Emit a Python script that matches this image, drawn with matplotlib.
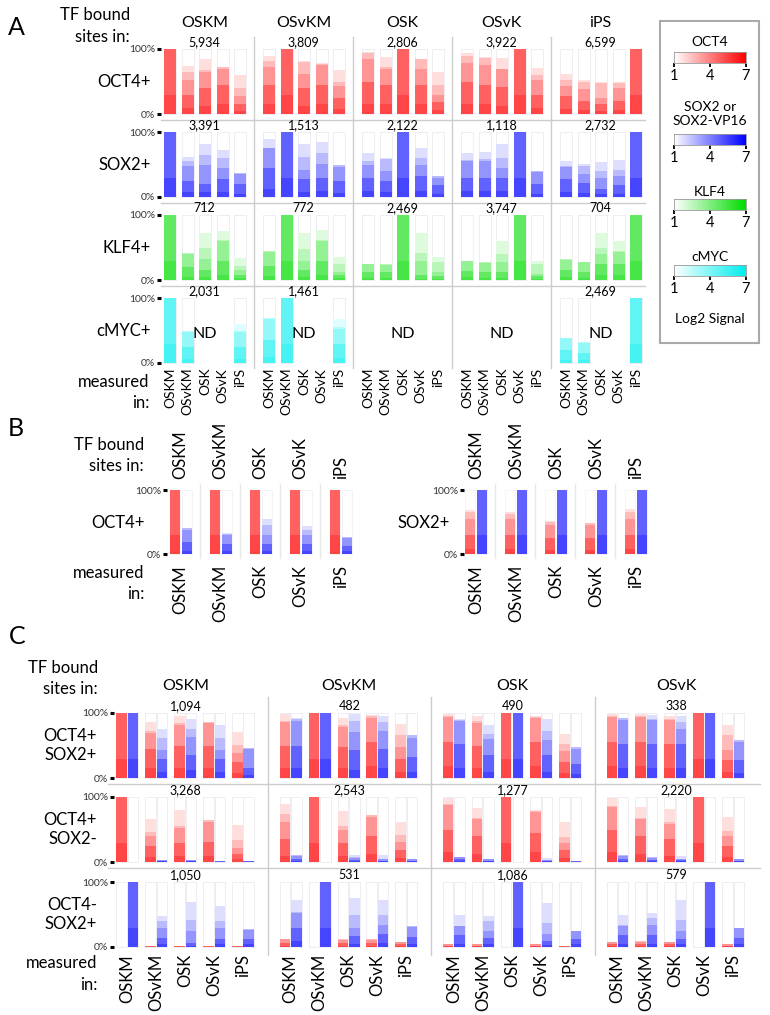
import numpy as np
import matplotlib
matplotlib.use('Agg')
import matplotlib.pyplot as plt
from matplotlib.colors import LinearSegmentedColormap
from matplotlib.patches import Rectangle

plt.rcParams['font.family'] = ['Lato', 'DejaVu Sans']

W, H = 770, 1015

# ---------------- data ----------------
# every bar: % of sites with log2 signal >= 2, 3, 4, 5, 6
tf_names = ['OSKM', 'OSvKM', 'OSK', 'OSvK', 'iPS']
c_groups = ['OSKM', 'OSvKM', 'OSK', 'OSvK']
a_rows = ['OCT4+', 'SOX2+', 'KLF4+', 'cMYC+']
c_rows = ['OCT4+\nSOX2+', 'OCT4+\nSOX2-', 'OCT4-\nSOX2+']

full = [100, 100, 100, 100, 30]
empty = [0, 0, 0, 0, 0]

a_counts = [['5,934', '3,809', '2,806', '3,922', '6,599'],
            ['3,391', '1,513', '2,122', '1,118', '2,732'],
            ['712', '772', '2,469', '3,747', '704'],
            ['2,031', '1,461', '', '', '2,469']]

a_oct4 = [[full, [74, 64, 52, 30, 10], [84, 67, 65, 40, 12], [72, 72, 70, 45, 15], [60, 40, 28, 15, 5]],
          [[90, 82, 72, 45, 15], full, [82, 80, 62, 40, 12], [78, 77, 75, 45, 15], [68, 50, 43, 25, 8]],
          [[96, 94, 85, 50, 15], [87, 73, 70, 45, 15], full, [84, 84, 70, 45, 15], [64, 44, 30, 18, 6]],
          [[94, 89, 79, 50, 15], [88, 86, 76, 45, 15], [86, 70, 69, 42, 12], full, [71, 60, 53, 30, 10]],
          [[61, 52, 43, 28, 8], [52, 50, 38, 20, 6], [49, 47, 25, 15, 5], [50, 48, 40, 20, 6], full]]

a_sox2 = [[full, [62, 55, 47, 25, 8], [81, 65, 50, 20, 8], [72, 60, 45, 27, 8], [37, 37, 35, 20, 5]],
          [[90, 76, 75, 45, 12], full, [81, 62, 42, 27, 8], [85, 67, 51, 30, 10], [49, 49, 46, 25, 6]],
          [[67, 55, 50, 30, 10], [60, 58, 40, 25, 8], full, [75, 60, 50, 32, 10], [32, 32, 30, 18, 5]],
          [[67, 57, 55, 30, 10], [69, 58, 55, 30, 10], [81, 60, 45, 30, 10], full, [40, 40, 38, 20, 5]],
          [[56, 47, 46, 28, 8], [51, 48, 35, 22, 6], [54, 40, 30, 12, 4], [57, 42, 32, 18, 5], full]]

a_klf4 = [[full, [41, 41, 40, 20, 5], [72, 50, 32, 15, 5], [76, 62, 60, 30, 8], [34, 22, 15, 8, 3]],
          [[45, 45, 43, 22, 6], full, [72, 48, 30, 15, 4], [77, 62, 60, 30, 8], [35, 25, 13, 8, 3]],
          [[25, 25, 24, 12, 3], [24, 24, 23, 12, 3], full, [72, 42, 30, 8, 2], [35, 28, 12, 6, 2]],
          [[30, 30, 29, 14, 4], [27, 27, 26, 13, 3], [60, 40, 28, 12, 3], full, [29, 25, 10, 6, 2]],
          [[32, 32, 31, 15, 4], [28, 28, 27, 13, 3], [72, 50, 40, 25, 8], [60, 45, 43, 25, 8], full]]

a_cmyc = [[full, [49, 49, 48, 25, 6], None, None, [60, 50, 48, 25, 6]],
          [[69, 69, 67, 35, 10], full, None, None, [67, 55, 53, 30, 8]],
          [None, None, None, None, None],
          [None, None, None, None, None],
          [[39, 39, 38, 20, 5], [32, 32, 31, 16, 4], None, None, full]]

b_oct4_red = [full, full, full, full, full]
b_oct4_blue = [[41, 40, 38, 18, 5], [33, 32, 30, 15, 4], [54, 45, 30, 15, 5], [43, 38, 30, 15, 4], [27, 27, 25, 12, 4]]
b_sox2_red = [[69, 65, 55, 30, 8], [66, 62, 55, 30, 8], [51, 50, 45, 25, 7], [49, 48, 45, 25, 7], [70, 65, 55, 30, 8]]
b_sox2_blue = [full, full, full, full, full]

c_counts = [['1,094', '482', '490', '338'],
            ['3,268', '2,543', '1,277', '2,220'],
            ['1,050', '531', '1,086', '579']]

c_red = [
    [[full, [86, 73, 70, 45, 15], [95, 84, 82, 50, 15], [86, 86, 84, 50, 15], [71, 51, 38, 25, 8]],
     [[98, 88, 86, 50, 15], full, [92, 81, 79, 48, 15], [97, 95, 93, 55, 18], [83, 66, 48, 30, 10]],
     [[99, 96, 94, 55, 18], [96, 88, 85, 50, 15], full, [95, 94, 92, 55, 18], [68, 53, 41, 25, 8]],
     [[98, 96, 94, 55, 18], [98, 96, 94, 55, 18], [96, 91, 89, 52, 15], full, [81, 66, 43, 28, 9]]],
    [[full, [66, 46, 40, 24, 8], [80, 55, 53, 30, 10], [65, 64, 62, 31, 10], [57, 34, 21, 12, 4]],
     [[89, 74, 61, 35, 10], full, [78, 55, 50, 30, 10], [73, 72, 70, 40, 12], [62, 41, 31, 18, 6]],
     [[98, 89, 87, 50, 15], [83, 68, 66, 40, 12], full, [80, 79, 77, 45, 15], [61, 38, 30, 18, 6]],
     [[99, 86, 84, 50, 15], [85, 68, 66, 40, 12], [81, 61, 59, 35, 10], full, [70, 48, 40, 25, 8]]],
    [[empty, [1, 1, 1, 1, 0], [1, 1, 1, 1, 0], [1, 1, 1, 1, 0], [1, 1, 1, 1, 0]],
     [[13, 13, 12, 6, 2], empty, [12, 12, 11, 6, 2], [12, 12, 11, 6, 2], [8, 8, 7, 4, 1]],
     [[4, 4, 4, 2, 1], [4, 4, 4, 2, 1], empty, [4, 4, 4, 2, 1], [2, 2, 2, 1, 0]],
     [[8, 8, 7, 4, 1], [9, 9, 8, 4, 1], [8, 8, 7, 4, 1], empty, [4, 4, 4, 2, 1]]],
]

c_blue = [
    [[full, [76, 61, 43, 30, 10], [91, 76, 63, 36, 12], [82, 61, 43, 30, 10], [46, 46, 44, 16, 5]],
     [[92, 91, 88, 50, 15], full, [98, 88, 71, 43, 12], [96, 86, 73, 45, 15], [66, 66, 62, 33, 10]],
     [[91, 90, 88, 52, 15], [82, 68, 60, 35, 10], full, [91, 73, 58, 35, 10], [48, 48, 45, 22, 6]],
     [[93, 92, 90, 52, 15], [97, 91, 89, 52, 15], [96, 86, 76, 53, 15], full, [59, 59, 55, 28, 8]]],
    [[empty, [3, 3, 3, 2, 1], [3, 3, 3, 2, 1], [2, 2, 2, 1, 0], [2, 2, 2, 1, 0]],
     [[11, 11, 10, 5, 2], empty, [11, 7, 6, 3, 1], [11, 5, 4, 2, 1], [5, 5, 4, 2, 1]],
     [[8, 8, 7, 4, 1], [4, 4, 4, 2, 1], empty, [6, 3, 3, 2, 1], [2, 2, 2, 1, 0]],
     [[11, 11, 10, 5, 2], [7, 7, 6, 3, 1], [9, 5, 5, 3, 1], empty, [5, 5, 4, 2, 1]]],
    [[full, [48, 40, 29, 14, 5], [70, 42, 24, 6, 2], [63, 40, 29, 12, 4], [27, 27, 26, 12, 4]],
     [[72, 54, 52, 30, 10], full, [75, 49, 30, 17, 5], [73, 49, 34, 20, 6], [32, 32, 31, 16, 5]],
     [[49, 33, 32, 18, 5], [48, 40, 25, 14, 4], full, [68, 37, 20, 10, 3], [25, 25, 24, 12, 4]],
     [[50, 34, 33, 18, 5], [53, 45, 34, 18, 5], [73, 42, 24, 12, 4], full, [30, 30, 29, 14, 4]]],
]

# ---------------- colours ----------------
red_cm = LinearSegmentedColormap.from_list('oct4', ['#ffffff', '#ff0000'])
blue_cm = LinearSegmentedColormap.from_list('sox2', ['#ffffff', '#0000ff'])
green_cm = LinearSegmentedColormap.from_list('klf4', ['#ffffff', '#00dd00'])
cyan_cm = LinearSegmentedColormap.from_list('cmyc', ['#ffffff', '#00eeee'])
# shade used for the bands >=2 ... >=6
band_shade = [0.13, 0.27, 0.42, 0.62, 0.73]
FRAME = '#ebebf0'
SEP = '#cccccc'

fig = plt.figure(figsize=(W / 100, H / 100), dpi=100)
ov = fig.add_axes([0, 0, 1, 1])
ov.set_xlim(0, W)
ov.set_ylim(H, 0)
ov.axis('off')


def px_axes(x0, y0, x1, y1):
    return fig.add_axes([x0 / W, 1 - y1 / H, (x1 - x0) / W, (y1 - y0) / H])


def row_axes(x0, x1, ytop, ybot, xoff):
    ax = px_axes(x0, ytop, x1, ybot)
    ax.set_xlim(x0 - xoff, x1 - xoff)
    ax.set_ylim(0, 100)
    ax.patch.set_visible(False)
    for s in ax.spines.values():
        s.set_visible(False)
    ax.set_xticks([])
    ax.set_yticks([])
    return ax


def pct_ticks(ax):
    ax.set_yticks([0, 100], ['0%', '100%'])
    ax.tick_params(axis='y', length=3, width=2.2, pad=1, labelsize=7.5, colors='black')
    ax.tick_params(axis='y', labelcolor='#333333')


def draw_bar(ax, x, w, vals, cmap, frame=FRAME):
    if vals is None:
        return
    ax.bar(x, 100, w, align='edge', color='white', edgecolor=frame, linewidth=0.6, zorder=1, clip_on=False)
    for k, v in enumerate(vals):
        if v > 0:
            ax.bar(x, v, w, align='edge', color=cmap(band_shade[k]), linewidth=0, zorder=2 + k, clip_on=False)


def txt(x, y, s, size, ha='center', **kw):
    ov.text(x, y, s, fontsize=size, ha=ha, va='center', **kw)


# ---------------- panel A ----------------
A_X0, A_GW, A_OFF, A_STEP, A_BW = 155, 99, 9, 17.6, 12
a_top = [49, 132, 215, 298]
a_h = 65
a_data = [a_oct4, a_sox2, a_klf4, a_cmyc]
a_cms = [red_cm, blue_cm, green_cm, cyan_cm]

txt(16, 27, 'A', 18)
txt(130, 15, 'TF bound', 12, ha='right')
txt(130, 37, 'sites in:', 12, ha='right')
txt(149, 382, 'measured', 12, ha='right')
txt(149, 403, 'in:', 12, ha='right')
for g, name in enumerate(tf_names):
    txt(A_X0 + g * A_GW + A_GW / 2, 23, name, 11.5)
    if g > 0:
        ov.plot([A_X0 + g * A_GW] * 2, [37, 368], color=SEP, lw=1)
for r in range(3):
    yl = a_top[r] + a_h + 6
    ov.plot([161, 645], [yl, yl], color=SEP, lw=1)

for r, row in enumerate(a_rows):
    ax = row_axes(161, 652, a_top[r], a_top[r] + a_h, A_X0)
    pct_ticks(ax)
    txt(151, a_top[r] + a_h / 2, row, 12, ha='right')
    centers = []
    for g in range(5):
        for b in range(5):
            x = g * A_GW + A_OFF + b * A_STEP
            centers.append(x + A_BW / 2)
            draw_bar(ax, x, A_BW, a_data[r][g][b], a_cms[r])
        gx = g * A_GW + A_GW / 2
        ax.text(gx, 102, a_counts[r][g], fontsize=9, ha='center', va='bottom')
        if a_data[r][g][2] is None:
            ax.text(g * A_GW + A_OFF + 2.5 * A_STEP + A_BW / 2 - A_STEP / 2, 45, 'ND',
                    fontsize=11.5, ha='center', va='center')
    if r == 3:
        ax.set_xticks(centers, tf_names * 5, rotation=90, fontsize=10)
        ax.tick_params(axis='x', length=0, pad=3.5)

# legend box
ov.add_patch(Rectangle((660, 21), 99, 322, fill=False, edgecolor='#aaaaaa', lw=1.5))
leg = [('OCT4', red_cm, 42, 52), ('SOX2 or\nSOX2-VP16', blue_cm, 114, 134),
       ('KLF4', green_cm, 192, 199), ('cMYC', cyan_cm, 257, 265)]
grad = np.linspace(1, 7, 256)[None, :]
for title, cm, ty, by in leg:
    txt(710, ty, title, 10, linespacing=1.25)
    cax = px_axes(674, by, 746, by + 11)
    cax.imshow(grad, aspect='auto', cmap=cm, extent=(1, 7, 0, 1), vmin=1, vmax=7)
    cax.set_yticks([])
    cax.set_xticks([1, 4, 7], ['1', '4', '7'])
    cax.tick_params(axis='x', length=3, width=1.3, pad=1, labelsize=10.5)
    for s in cax.spines.values():
        s.set_color('#999999')
        s.set_linewidth(0.6)
txt(710, 319, 'Log2 Signal', 10)

# ---------------- panel B ----------------
B_GW, B_OFF, B_BW = 40, 10, 10
b_top, b_h = 490, 64
b_blocks = [(160, 167, 'OCT4+', 145, b_oct4_red, b_oct4_blue),
            (455, 464, 'SOX2+', 450, b_sox2_red, b_sox2_blue)]

txt(16, 428, 'B', 18)
txt(144, 445, 'TF bound', 12, ha='right')
txt(144, 466, 'sites in:', 12, ha='right')
txt(144, 573, 'measured', 12, ha='right')
txt(144, 594, 'in:', 12, ha='right')
for x0, axl, row, lx, reds, blues in b_blocks:
    for g in range(1, 5):
        ov.plot([x0 + g * B_GW] * 2, [484, 558], color='#e8e8e8', lw=1)
    ax = row_axes(axl, x0 + 5 * B_GW, b_top, b_top + b_h, x0)
    pct_ticks(ax)
    txt(lx, 523, row, 12, ha='right')
    centers = []
    for g in range(5):
        x = g * B_GW + B_OFF
        draw_bar(ax, x, B_BW, reds[g], red_cm, frame='#f4f4f4')
        draw_bar(ax, x + B_BW + 1.5, B_BW, blues[g], blue_cm, frame='#f0f0f6')
        centers.append(x + B_BW + 0.75)
    ax.set_xticks(centers, tf_names, rotation=90, fontsize=12)
    ax.tick_params(axis='x', length=0, pad=8, labeltop=True, labelbottom=True)

# ---------------- panel C ----------------
C_X0, C_GW, C_OFF, C_STEP, C_BW = 104, 163.5, 12, 29, 10.5
c_top = [713, 797, 882]
c_h = 65

txt(17, 637, 'C', 18)
txt(98, 668, 'TF bound', 12, ha='right')
txt(98, 689, 'sites in:', 12, ha='right')
txt(97, 963, 'measured', 12, ha='right')
txt(97, 985, 'in:', 12, ha='right')
for g, name in enumerate(c_groups):
    txt(C_X0 + g * C_GW + C_GW / 2, 686, name, 11.5)
    if g > 0:
        ov.plot([C_X0 + g * C_GW] * 2, [697, 955], color=SEP, lw=1)
for r in range(2):
    yl = c_top[r] + c_h + 6
    ov.plot([108, 760], [yl, yl], color=SEP, lw=1)

for r, row in enumerate(c_rows):
    ax = row_axes(114, 760, c_top[r], c_top[r] + c_h, C_X0)
    pct_ticks(ax)
    txt(97, c_top[r] + c_h / 2, row, 12, ha='right', linespacing=1.3)
    centers = []
    for g in range(4):
        for p in range(5):
            x = g * C_GW + C_OFF + p * C_STEP
            draw_bar(ax, x, C_BW, c_red[r][g][p], red_cm)
            draw_bar(ax, x + C_BW + 1, C_BW, c_blue[r][g][p], blue_cm)
            centers.append(x + C_BW + 0.5)
        ax.text(g * C_GW + C_GW / 2, 102, c_counts[r][g], fontsize=9, ha='center', va='bottom')
    if r == 2:
        ax.set_xticks(centers, tf_names * 4, rotation=90, fontsize=12)
        ax.tick_params(axis='x', length=0, pad=5)

fig.savefig('out.png', dpi=100)
